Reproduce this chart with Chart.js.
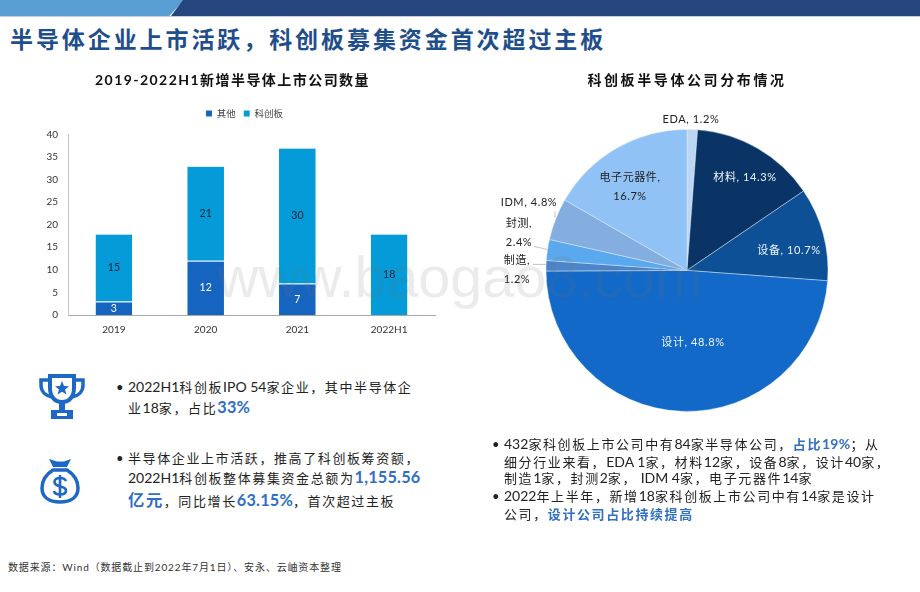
<!DOCTYPE html>
<html lang="zh"><head><meta charset="utf-8">
<script src="https://cdn.jsdelivr.net/npm/chart.js@4"></script>
<style>
html,body{margin:0;padding:0;background:#fff;width:920px;height:592px;overflow:hidden}
body{position:relative;font-family:Lato,"Noto Sans CJK SC",sans-serif;color:#222}
.abs{position:absolute}
#bandA{left:0;top:0;width:184px;height:16px;background:#5a9fd3;clip-path:polygon(0 0,100% 0,92% 100%,0 100%)}
#bandB{left:171px;top:0;width:749px;height:16px;background:#27457f;clip-path:polygon(12px 0,100% 0,100% 100%,0 100%)}
#rule{left:0;top:16px;width:920px;height:1px;background:#c3cfe0}
#title{left:10px;top:22px;font-size:23px;line-height:34px;font-weight:700;color:#1f4e8c;letter-spacing:2.92px;white-space:nowrap}
.ln{position:absolute;white-space:nowrap;font-size:13px;line-height:20px;letter-spacing:1.6px;color:#222}
.ln .lat{letter-spacing:0;font-size:14px}
.ln b{color:#2f6fc4;font-size:16.3px;line-height:1;font-weight:700}
.ln b .lat{font-size:inherit;letter-spacing:.2px}
.ln b.s{font-size:13px}
.ln b.s .lat{font-size:14px}
.bul{position:absolute;font-size:13px;line-height:20px;color:#222}
#src{left:8px;top:559px;font-size:10px;line-height:16px;letter-spacing:.86px;color:#333;white-space:nowrap}
#wm{left:217px;top:242px;font:57.5px/70px "Liberation Sans",sans-serif;color:rgba(110,110,110,.14);white-space:nowrap;pointer-events:none;z-index:5}
canvas{position:absolute}
</style></head><body>
<div class="abs" id="bandA"></div><div class="abs" id="bandB"></div><div class="abs" id="rule"></div>
<div class="abs" id="title">半导体企业上市活跃&#xFF0C;科创板募集资金首次超过主板</div>
<div id="barBox" class="abs" style="left:0;top:66px;width:460px;height:291px"><canvas id="bar"></canvas></div>
<div id="pieBox" class="abs" style="left:487px;top:66px;width:400px;height:374px"><canvas id="pie"></canvas></div>

<svg class="abs" style="left:38px;top:374px" width="48" height="46" viewBox="0 0 48 46" fill="none">
 <path d="M12 2H36V14C36 23 31 28 24 28C17 28 12 23 12 14Z" stroke="#1d68c4" stroke-width="4"/>
 <path d="M12 6H3V11C3 18 8 22 14 23M36 6H45V11C45 18 40 22 34 23" stroke="#1d68c4" stroke-width="3.5"/>
 <path d="M21 28H27V36H21Z" fill="#1d68c4"/><path d="M13 36H35V45H13Z" fill="#1d68c4"/><rect x="19" y="39" width="10" height="3" fill="#fff"/>
 <path d="M24 7L26 12L31 12.300L27 15.500L28.500 20.500L24 17.700L19.500 20.500L21 15.500L17 12.300L22 12Z" fill="#1d68c4"/>
</svg>
<svg class="abs" style="left:40px;top:457px" width="40" height="47" viewBox="0 0 40 47" fill="none">
 <path d="M9 2L17 4.500H24L31 2L27 10H13Z" fill="#1d68c4"/>
 <path d="M13 13C5 18 2 25 2 31C2 40 9 45 20 45C31 45 38 40 38 31C38 25 35 18 27 13Z" stroke="#1d68c4" stroke-width="3.500"/>
 <path d="M26 24C25 21.500 23 21 20 21C16.500 21 14.500 22.500 14.500 25C14.500 31 26 28 26 33.500C26 36 23.500 37.500 20 37.500C17 37.500 14.500 36.500 14 34M20 18V41" stroke="#1d68c4" stroke-width="2.600"/>
</svg>

<div id="textBlocks"></div>
<div class="abs" id="src">数据来源&#xFF1A;Wind&#xFF08;数据截止到2022年7月1日&#xFF09;、安永、云岫资本整理</div>
<div class="abs" id="wm">www.baogao8.com</div>

<script>
// ---- bar chart data
const years = ['2019', '2020', '2021', '2022H1'];
const otherCounts = [3, 12, 7, 0];
const starCounts = [15, 21, 30, 18];
const yTickStep = 5;
const yMax = 40;
// ---- pie chart data
const pieNames = ['EDA', '材料', '设备', '设计', '制造', '封测', 'IDM', '电子元器件'];
const pieShares = [1.2, 14.3, 10.7, 48.8, 1.2, 2.4, 4.8, 16.7];
const pieColors = ['#bcd6f3', '#0a3465', '#0e5096', '#1269c7', '#4d85cb', '#5aa9ee', '#85aee0', '#90c2f6'];
const barTitle = '2019-2022H1新增半导体上市公司数量';
const pieTitle = '科创板半导体公司分布情况';

const FONT = 'Lato, "Noto Sans CJK SC", sans-serif';
Chart.defaults.font.family = FONT;
Chart.defaults.animation = false;
Chart.defaults.responsive = true;
Chart.defaults.maintainAspectRatio = false;

// nudges the title and legend boxes and gives the title the reference's wide tracking
function boxTweaks(spacing, titleShift, legendShift, legendExtra) {
  return {
    id: 'boxTweaks',
    beforeInit(chart) {
      const tb = chart.titleBlock, lg = chart.legend;
      if (tb) {
        const d = tb.draw;
        tb.draw = function () {
          const c = chart.ctx;
          c.save();
          c.letterSpacing = spacing + 'px';
          c.translate(titleShift, 0);
          d.call(this);
          c.restore();
        };
      }
      if (lg) {
        const f = lg.fit, d = lg.draw;
        lg.fit = function () { f.call(this); this.height += legendExtra; };
        lg.draw = function () {
          const c = chart.ctx;
          c.save();
          c.translate(legendShift, 0);
          d.call(this);
          c.restore();
        };
      }
    }
  };
}

// text placed on the bars, read through the bars' own elements
const barLabels = {
  id: 'barLabels',
  afterDatasetsDraw(chart) {
    const c = chart.ctx;
    c.save();
    c.font = '10.5px ' + FONT;
    c.textAlign = 'center';
    c.textBaseline = 'middle';
    chart.data.datasets.forEach((ds, i) => {
      chart.getDatasetMeta(i).data.forEach((el, j) => {
        if (!ds.data[j]) return;
        c.fillStyle = i === 0 ? '#ffffff' : '#10242f';
        c.fillText(String(ds.data[j]), el.x, (el.y + el.base) / 2);
      });
    });
    c.restore();
  }
};

const pieLabelLayout = [
  {lines: ['EDA, 1.2%'], dx: 4, dy: -151, color: '#222'},
  {lines: ['材料, 14.3%'], dx: 58, dy: -93, color: '#eef4fb'},
  {lines: ['设备, 10.7%'], dx: 102, dy: -20, color: '#eef4fb'},
  {lines: ['设计, 48.8%'], dx: 6, dy: 72, color: '#eef4fb'},
  {lines: ['制造,', '1.2%'], dx: -170, dy: -10, color: '#222', leader: [-154, -6, -141, -6]},
  {lines: ['封测,', '2.4%'], dx: -168, dy: -47, color: '#222', leader: [-153, -24, -140, -21]},
  {lines: ['IDM, 4.8%'], dx: -158, dy: -68, color: '#222', leader: [-132, -59, -132, -53]},
  {lines: ['电子元器件,', '16.7%'], dx: -57, dy: -93, color: '#222'}
];
const pieLabels = {
  id: 'pieLabels',
  afterDatasetsDraw(chart) {
    const c = chart.ctx;
    const arc = chart.getDatasetMeta(0).data[0];
    c.save();
    c.font = '11px ' + FONT;
    c.letterSpacing = '0.6px';
    c.textAlign = 'center';
    c.textBaseline = 'middle';
    pieLabelLayout.forEach((l) => {
      if (l.leader) {
        c.strokeStyle = '#b5b5b5';
        c.lineWidth = 0.8;
        c.beginPath();
        c.moveTo(arc.x + l.leader[0], arc.y + l.leader[1]);
        c.lineTo(arc.x + l.leader[2], arc.y + l.leader[3]);
        c.stroke();
      }
      c.fillStyle = l.color;
      l.lines.forEach((t, k) => c.fillText(t, arc.x + l.dx, arc.y + l.dy + k * 19));
    });
    c.restore();
  }
};

new Chart(document.getElementById('bar'), {
  type: 'bar',
  plugins: [boxTweaks(1.45, -5, 7, 6), barLabels],
  data: {
    labels: years,
    datasets: [
      {label: '其他', data: otherCounts, backgroundColor: '#1565c0', borderColor: 'rgba(190,225,245,.55)', borderWidth: {top: 1}, stack: 's'},
      {label: '科创板', data: starCounts, backgroundColor: '#059bd8', borderColor: 'rgba(190,225,245,.55)', borderWidth: {top: 1}, stack: 's'}
    ]
  },
  options: {
    layout: {padding: {left: 40, right: 25, bottom: 12, top: 0}},
    datasets: {bar: {categoryPercentage: 1, barPercentage: 0.4}},
    plugins: {
      tooltip: {enabled: false},
      title: {display: true, text: barTitle, color: '#111', font: {size: 14, weight: 'bold', family: FONT}, padding: {top: 6, bottom: 12}},
      legend: {position: 'top', labels: {boxWidth: 6, boxHeight: 6, color: '#444', font: {size: 9.5}, padding: 8}}
    },
    scales: {
      x: {stacked: true, grid: {display: false, drawTicks: false}, border: {color: '#a8a8a8'},
          ticks: {color: '#333', font: {size: 10}, padding: 9, maxRotation: 0}},
      y: {stacked: true, min: 0, max: yMax, grid: {display: false, drawTicks: false}, border: {color: '#c4c4c4'},
          ticks: {stepSize: yTickStep, color: '#333', font: {size: 10}, padding: 10},
          afterFit(a) { a.width = 28; }}
    }
  }
});

new Chart(document.getElementById('pie'), {
  type: 'pie',
  plugins: [boxTweaks(2.6, 0, 0, 0), pieLabels],
  data: {labels: pieNames, datasets: [{data: pieShares, backgroundColor: pieColors, borderColor: 'rgba(225,238,250,.55)', borderWidth: 0.8, radius: 141}]},
  options: {
    layout: {padding: 0},
    plugins: {
      tooltip: {enabled: false},
      legend: {display: false},
      title: {display: true, text: pieTitle, color: '#111', font: {size: 14, weight: 'bold', family: FONT}, padding: {top: 6, bottom: 12}}
    }
  }
});

// ---- body text, one element per source line
const textLines = [
  [128, 377, '2022H1科创板IPO 54家企业,其中半导体企', true],
  [128, 398, '业18家,占比<b>33%</b>'],
  [128, 448, '半导体企业上市活跃,推高了科创板筹资额,', true],
  [128, 468, '2022H1科创板整体募集资金总额为<b>1,155.56</b>'],
  [128, 491, '<b>亿元</b>,同比增长<b>63.15%</b>,首次超过主板'],
  [504, 434, '432家科创板上市公司中有84家半导体公司,<b class="s">占比19%</b>;从', true],
  [504, 452, '细分行业来看,EDA 1家,材料12家,设备8家,设计40家,'],
  [504, 468, '制造1家,封测2家, IDM 4家,电子元器件14家'],
  [504, 486, '2022年上半年,新增18家科创板上市公司中有14家是设计', true],
  [504, 504, '公司,<b class="s">设计公司占比持续提高</b>']
];
const box = document.getElementById('textBlocks');
// commas and semicolons outside numbers are the full-width Chinese forms
function wide(s) {
  return s.replace(/,(?!\d)/g, '\uFF0C').replace(/;/g, '\uFF1B');
}
function wrapLatin(html) {
  return html.split(/(<[^>]+>)/).map((p) => p.startsWith('<') ? p : wide(p).replace(/[\x20-\x7e]+/g, (m) => '<span class="lat">' + m + '</span>')).join('');
}
textLines.forEach(([x, y, t, bullet]) => {
  const d = document.createElement('div');
  d.className = 'ln';
  d.style.left = x + 'px';
  d.style.top = y + 'px';
  d.innerHTML = wrapLatin(t);
  box.appendChild(d);
  if (bullet) {
    const b = document.createElement('div');
    b.className = 'bul';
    b.style.left = (x - 12) + 'px';
    b.style.top = y + 'px';
    b.textContent = '•';
    box.appendChild(b);
  }
});
</script>
</body></html>
